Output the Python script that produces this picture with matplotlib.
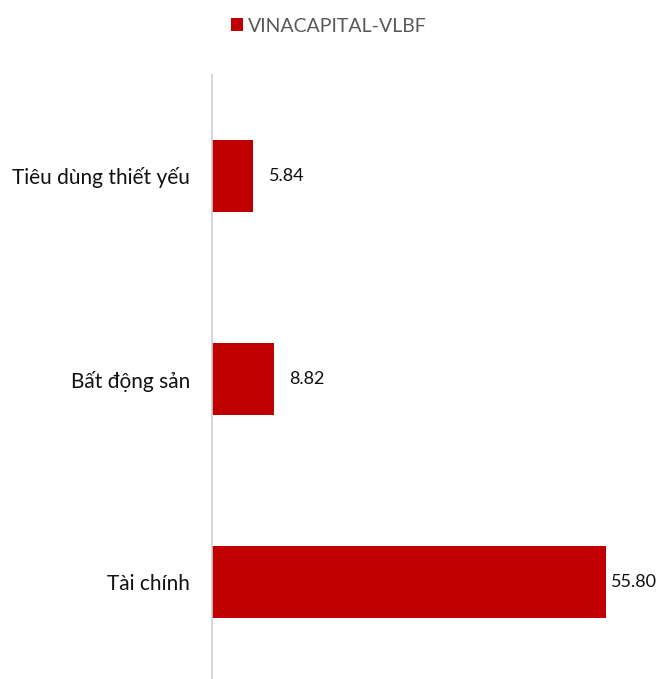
import matplotlib.pyplot as plt
import numpy as np

categories = ['Tài chính', 'Bất động sản', 'Tiêu dùng thiết yếu']
values = [55.80, 8.82, 5.84]
series_name = 'VINACAPITAL-VLBF'

plt.rcParams['font.family'] = ['Lato', 'DejaVu Sans']

fig = plt.figure(figsize=(6.58, 6.79), dpi=100)
ax = fig.add_axes([212 / 658, -4.5 / 679, 424 / 658, 609 / 679])

y_pos = np.arange(len(categories))
bars = ax.barh(y_pos, values, height=0.355, color='#C00000', label=series_name)

ax.set_xlim(0, 60)
ax.set_ylim(-0.5, len(categories) - 0.5)
ax.set_yticks(y_pos)
ax.set_yticklabels(categories, fontsize=15, color='#111111')
ax.tick_params(axis='y', length=0, pad=16)
ax.set_xticks([])

for s in ['top', 'right', 'bottom']:
    ax.spines[s].set_visible(False)
ax.spines['left'].set_color('#D0D0D0')
ax.spines['left'].set_linewidth(1.2)

# data labels, last one sits tight against the bar end
pads = [3, 11, 11]
for b, v, p in zip(bars, values, pads):
    ax.annotate('%.2f' % v, (b.get_width(), b.get_y() + b.get_height() / 2),
                xytext=(p, 0), textcoords='offset points',
                ha='left', va='center', fontsize=13, color='#111111')

fig.legend(loc='center', bbox_to_anchor=(0.5, 1 - 26 / 679), frameon=False,
           fontsize=14, handlelength=0.6, handleheight=0.6, handletextpad=0.3,
           labelcolor='#595959')

fig.savefig('out.png', dpi=100)
